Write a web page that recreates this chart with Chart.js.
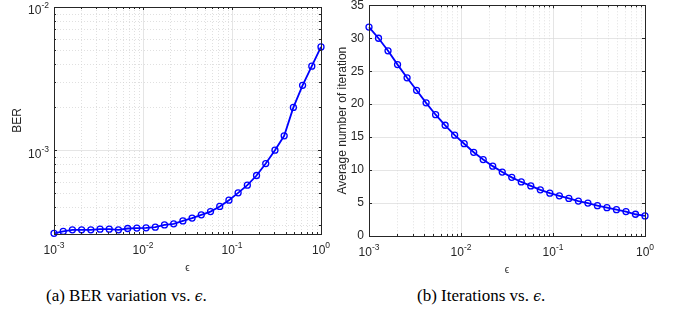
<!DOCTYPE html>
<html>
<head>
    <meta charset="UTF-8">
    <title>BER and iterations vs epsilon</title>
    <script src="https://cdn.jsdelivr.net/npm/chart.js@4.4.0/dist/chart.umd.min.js"></script>
    <style type="text/css">
        body { margin: 0; background: #fff; width: 674px; height: 321px; position: relative; overflow: hidden; }
        canvas { position: absolute; top: 0; }
        #berChart { left: 0; }
        #iterChart { left: 337px; }
        .caption {
            position: absolute; top: 286px;
            font-family: "Liberation Serif", "DejaVu Serif", serif;
            font-size: 17px; color: #000; white-space: nowrap;
        }
        .caption i { font-family: "DejaVu Serif", serif; font-size: 14px; }
        #capA { left: 46px; }
        #capB { left: 417px; }
    </style>
</head>
<body>

<canvas id="berChart" width="337" height="275"></canvas>
<canvas id="iterChart" width="337" height="275"></canvas>
<div class="caption" id="capA">(a) BER variation vs. <i>ϵ</i>.</div>
<div class="caption" id="capB">(b) Iterations vs. <i>ϵ</i>.</div>

<script>
    // epsilon sweep (30 log-spaced values, 1e-3 .. 1)
    const epsilon = [0.001, 0.001269, 0.001610, 0.002043, 0.002593, 0.003290, 0.004175, 0.005298, 0.006723, 0.008532,
                     0.01083, 0.01374, 0.01743, 0.02212, 0.02807, 0.03562, 0.04520, 0.05736, 0.07279, 0.09237,
                     0.1172, 0.1487, 0.1887, 0.2395, 0.3039, 0.3857, 0.4894, 0.6210, 0.7880, 1.0];

    const berValues = [2.63e-4, 2.71e-4, 2.78e-4, 2.78e-4, 2.78e-4, 2.81e-4, 2.81e-4, 2.78e-4, 2.84e-4, 2.86e-4,
                       2.87e-4, 2.90e-4, 3.01e-4, 3.06e-4, 3.21e-4, 3.36e-4, 3.54e-4, 3.73e-4, 4.05e-4, 4.48e-4,
                       5.04e-4, 5.70e-4, 6.66e-4, 8.07e-4, 1.00e-3, 1.26e-3, 1.99e-3, 2.84e-3, 3.86e-3, 5.26e-3];

    const iterValues = [31.7, 30.0, 28.1, 26.0, 24.0, 22.1, 20.2, 18.4, 16.8, 15.3,
                        14.0, 12.7, 11.6, 10.6, 9.7, 8.9, 8.2, 7.6, 7.0, 6.5,
                        6.1, 5.7, 5.3, 5.0, 4.6, 4.3, 4.0, 3.7, 3.3, 3.05];

    const xTickExps = [-3, -2, -1, 0];
    const berTickExps = [-3, -2];
    const iterTicks = [0, 5, 10, 15, 20, 25, 30, 35];

    const TEXT = '#262626';
    const SANS = '"Liberation Sans", Arial, sans-serif';

    // log-axis gridline values (1..9 x 10^n) inside [min,max]
    function logLines(min, max) {
        const out = [];
        for (let d = Math.floor(Math.log10(min)); d <= Math.ceil(Math.log10(max)); d++) {
            for (let k = 1; k <= 9; k++) {
                const v = k * Math.pow(10, d);
                if (v >= min * 0.999 && v <= max * 1.001) out.push({ v: v, major: k === 1 });
            }
        }
        return out;
    }

    function powLabel(ctx, exp, x, y, align) {
        ctx.font = '12px ' + SANS;
        const wb = ctx.measureText('10').width;
        ctx.font = '8.5px ' + SANS;
        const es = String(exp);
        const we = ctx.measureText(es).width;
        let x0 = align === 'right' ? x - wb - we : x - (wb + we) / 2;
        ctx.textAlign = 'left';
        ctx.textBaseline = 'middle';
        ctx.font = '12px ' + SANS;
        ctx.fillText('10', x0, y);
        ctx.font = '8.5px ' + SANS;
        ctx.fillText(es, x0 + wb, y - 5);
    }

    const matlabAxes = {
        id: 'matlabAxes',
        beforeDatasetsDraw(chart, args, opts) {
            const { ctx, chartArea: a } = chart;
            const xs = chart.scales.x, ys = chart.scales.y;
            ctx.save();
            ctx.lineWidth = 0.7;
            // x grid
            logLines(xs.min, xs.max).forEach(g => {
                const px = Math.round(xs.getPixelForValue(g.v)) + 0.5;
                ctx.strokeStyle = g.major ? '#dadada' : '#d2d2d2';
                ctx.setLineDash(g.major ? [] : [1, 2]);
                ctx.beginPath(); ctx.moveTo(px, a.top); ctx.lineTo(px, a.bottom); ctx.stroke();
            });
            // y grid
            const yLines = opts.yLog ? logLines(ys.min, ys.max) : iterTicks.map(v => ({ v: v, major: true }));
            yLines.forEach(g => {
                const py = Math.round(ys.getPixelForValue(g.v)) + 0.5;
                ctx.strokeStyle = g.major ? '#dadada' : '#d2d2d2';
                ctx.setLineDash(g.major ? [] : [1, 2]);
                ctx.beginPath(); ctx.moveTo(a.left, py); ctx.lineTo(a.right, py); ctx.stroke();
            });
            ctx.restore();
        },
        afterDraw(chart, args, opts) {
            const { ctx, chartArea: a } = chart;
            const xs = chart.scales.x, ys = chart.scales.y;
            ctx.save();
            ctx.setLineDash([]);
            ctx.strokeStyle = TEXT;
            ctx.lineWidth = 1;
            ctx.strokeRect(Math.round(a.left) + 0.5, Math.round(a.top) + 0.5,
                           Math.round(a.right - a.left), Math.round(a.bottom - a.top));
            // inward ticks
            logLines(xs.min, xs.max).forEach(g => {
                const px = Math.round(xs.getPixelForValue(g.v)) + 0.5;
                const len = g.major ? 3 : 2;
                ctx.beginPath();
                ctx.moveTo(px, a.bottom); ctx.lineTo(px, a.bottom - len);
                ctx.moveTo(px, a.top); ctx.lineTo(px, a.top + len);
                ctx.stroke();
            });
            const yLines = opts.yLog ? logLines(ys.min, ys.max) : iterTicks.map(v => ({ v: v, major: true }));
            yLines.forEach(g => {
                const py = Math.round(ys.getPixelForValue(g.v)) + 0.5;
                const len = g.major ? 3 : 2;
                ctx.beginPath();
                ctx.moveTo(a.left, py); ctx.lineTo(a.left + len, py);
                ctx.moveTo(a.right, py); ctx.lineTo(a.right - len, py);
                ctx.stroke();
            });

            // tick labels
            ctx.fillStyle = TEXT;
            xTickExps.forEach(e => powLabel(ctx, e, xs.getPixelForValue(Math.pow(10, e)), a.bottom + 17, 'center'));
            if (opts.yLog) {
                berTickExps.forEach(e => powLabel(ctx, e, a.left - 5, ys.getPixelForValue(Math.pow(10, e)) + 4, 'right'));
            } else {
                ctx.font = '12px ' + SANS;
                ctx.textAlign = 'right';
                ctx.textBaseline = 'middle';
                iterTicks.forEach(v => ctx.fillText(String(v), a.left - 5, ys.getPixelForValue(v)));
            }

            // axis titles
            ctx.font = '10px ' + SANS;
            ctx.textAlign = 'center';
            ctx.textBaseline = 'middle';
            ctx.fillText('ϵ', (a.left + a.right) / 2, a.bottom + 34);
            ctx.save();
            ctx.translate(opts.yTitleX, (a.top + a.bottom) / 2);
            ctx.rotate(-Math.PI / 2);
            ctx.font = '12px ' + SANS;
            ctx.fillText(opts.yTitle, 0, 0);
            ctx.restore();
            ctx.restore();
        }
    };

    function lineDataset(values) {
        return {
            data: epsilon.map((e, i) => ({ x: e, y: values[i] })),
            borderColor: '#0000ff',
            borderWidth: 1.8,
            pointRadius: 3,
            pointBorderWidth: 1.3,
            pointBorderColor: '#0000ff',
            pointBackgroundColor: 'rgba(0,0,0,0)',
            tension: 0,
            clip: false
        };
    }

    function makeChart(id, values, yScale, pad, axisOpts) {
        return new Chart(document.getElementById(id).getContext('2d'), {
            type: 'line',
            data: { datasets: [lineDataset(values)] },
            plugins: [matlabAxes],
            options: {
                responsive: false,
                animation: false,
                layout: { padding: pad },
                plugins: {
                    legend: { display: false },
                    tooltip: { enabled: false },
                    matlabAxes: axisOpts
                },
                scales: {
                    x: { type: 'logarithmic', min: 1e-3, max: 1, display: false },
                    y: yScale
                }
            }
        });
    }

    makeChart('berChart', berValues,
        { type: 'logarithmic', min: 2.6e-4, max: 1e-2, display: false },
        { left: 54, top: 7, right: 16, bottom: 41 },
        { yLog: true, yTitle: 'BER', yTitleX: 18 });

    makeChart('iterChart', iterValues,
        { type: 'linear', min: 0, max: 35, display: false },
        { left: 32, top: 3, right: 29, bottom: 39 },
        { yLog: false, yTitle: 'Average number of iteration', yTitleX: 6 });
</script>

</body>
</html>
